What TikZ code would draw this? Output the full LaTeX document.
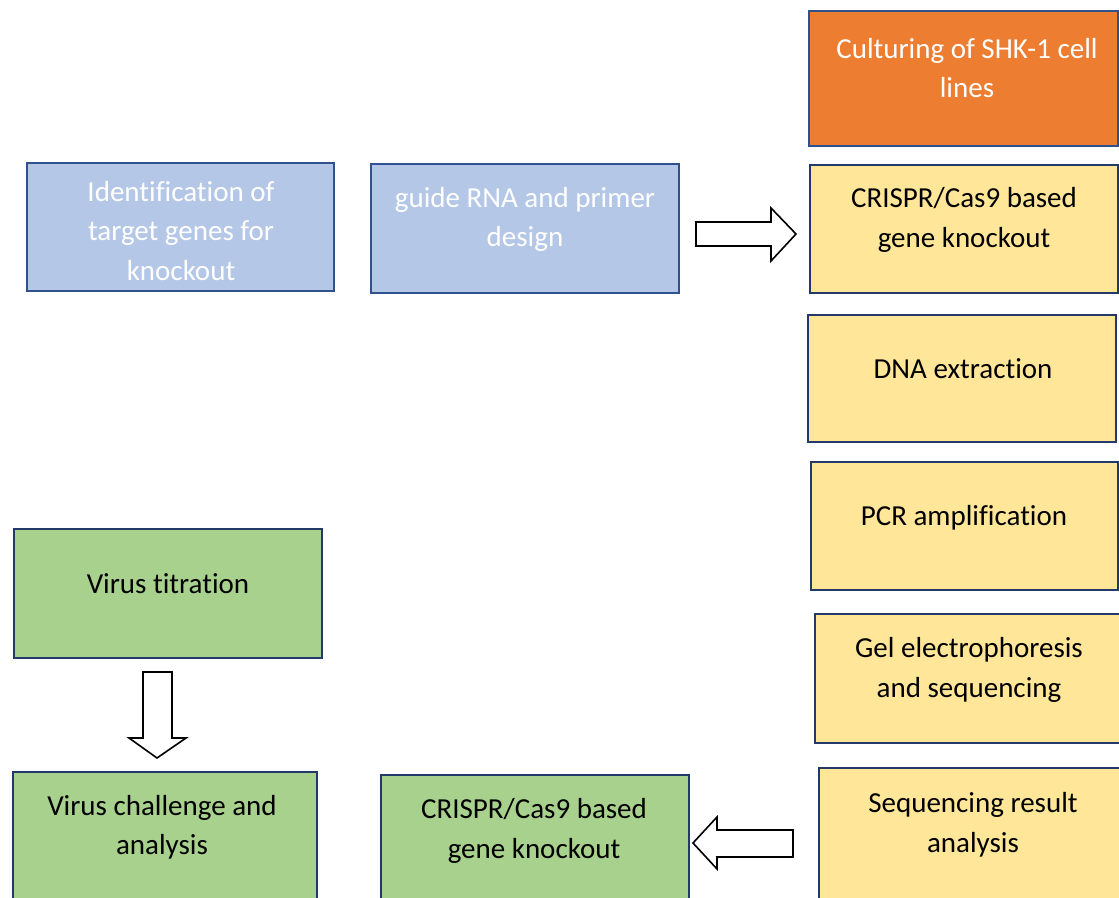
\documentclass[tikz,border=0pt]{standalone}
\usepackage{fontspec}
\setmainfont{Carlito}[Ligatures=NoCommon]
\definecolor{bordc}{HTML}{2F528F}
\definecolor{bordd}{HTML}{22396A}
\definecolor{orangef}{HTML}{ED7D31}
\definecolor{bluef}{HTML}{B4C7E7}
\definecolor{yellowf}{HTML}{FFE699}
\definecolor{greenf}{HTML}{A9D18E}
\begin{document}
\begin{tikzpicture}[x=1pt,y=-1pt,
  box/.style={draw=bordc,line width=2.2pt,rectangle,inner sep=0pt,outer sep=0pt},
  dbox/.style={box,draw=bordd,line width=2.5pt},
  txt/.style={align=center,inner sep=0pt,font=\fontsize{29}{39.5}\selectfont},
  wtxt/.style={txt,text=white},
  blockarrow/.style={draw=black,line width=1.6pt,fill=white,line join=miter}]
\useasboundingbox (0,0) rectangle (1119,897);
\clip (0,0) rectangle (1119,897);
\fill[white] (0,0) rectangle (1119,897);
% boxes
\node[box,fill=orangef,minimum width=309pt,minimum height=135pt] (culture) at (963.5,78.5) {};
\node[box,fill=bluef,minimum width=307pt,minimum height=128pt] (ident) at (180.5,227) {};
\node[box,fill=bluef,minimum width=308pt,minimum height=129pt] (guide) at (525,228.5) {};
\node[dbox,fill=yellowf,minimum width=308pt,minimum height=128pt] (crispry) at (964,229) {};
\node[dbox,fill=yellowf,minimum width=308pt,minimum height=127pt] (dna) at (962,378.5) {};
\node[dbox,fill=yellowf,minimum width=307pt,minimum height=128pt] (pcr) at (964.5,526) {};
\node[dbox,fill=yellowf,minimum width=307pt,minimum height=129pt] (gel) at (968.5,678.5) {};
\node[dbox,fill=yellowf,minimum width=308pt,minimum height=134pt] (seq) at (973,835) {};
\node[dbox,fill=greenf,minimum width=308pt,minimum height=129pt] (vt) at (168,593.5) {};
\node[dbox,fill=greenf,minimum width=304pt,minimum height=134pt] (vc) at (165,839) {};
\node[dbox,fill=greenf,minimum width=308pt,minimum height=134pt] (crisprg) at (535,842) {};
% texts
\node[wtxt] (culture-t) at (967,68) {Culturing of SHK-1 cell\\lines};
\node[wtxt] (ident-t) at (181,231) {Identification of\\target genes for\\knockout};
\node[wtxt] (guide-t) at (525,219.5) {guide RNA and primer\\design};
\node[txt] (crispry-t) at (964,220) {CRISPR/Cas9 based\\gene knockout};
\node[txt] (dna-t) at (963,369) {DNA extraction};
\node[txt] (pcr-t) at (964,517.5) {PCR amplification};
\node[txt] (gel-t) at (969,670) {Gel electrophoresis\\and sequencing};
\node[txt] (seq-t) at (973,825) {Sequencing result\\analysis};
\node[txt] (vt-t) at (168,584) {Virus titration};
\node[txt] (vc-t) at (162,827.5) {Virus challenge and\\analysis};
\node[txt] (crisprg-t) at (534,831) {CRISPR/Cas9 based\\gene knockout};
% block arrows
\draw[blockarrow] (696,222) -- (771,222) -- (771,208) -- (796,234) -- (771,261) -- (771,246) -- (696,246) -- cycle;
\draw[blockarrow] (143,672) -- (172,672) -- (172,738) -- (186,738) -- (157,758) -- (129,738) -- (143,738) -- cycle;
\draw[blockarrow] (793,830) -- (717,830) -- (717,817) -- (693,843) -- (717,869) -- (717,857) -- (793,857) -- cycle;
\end{tikzpicture}
\end{document}
